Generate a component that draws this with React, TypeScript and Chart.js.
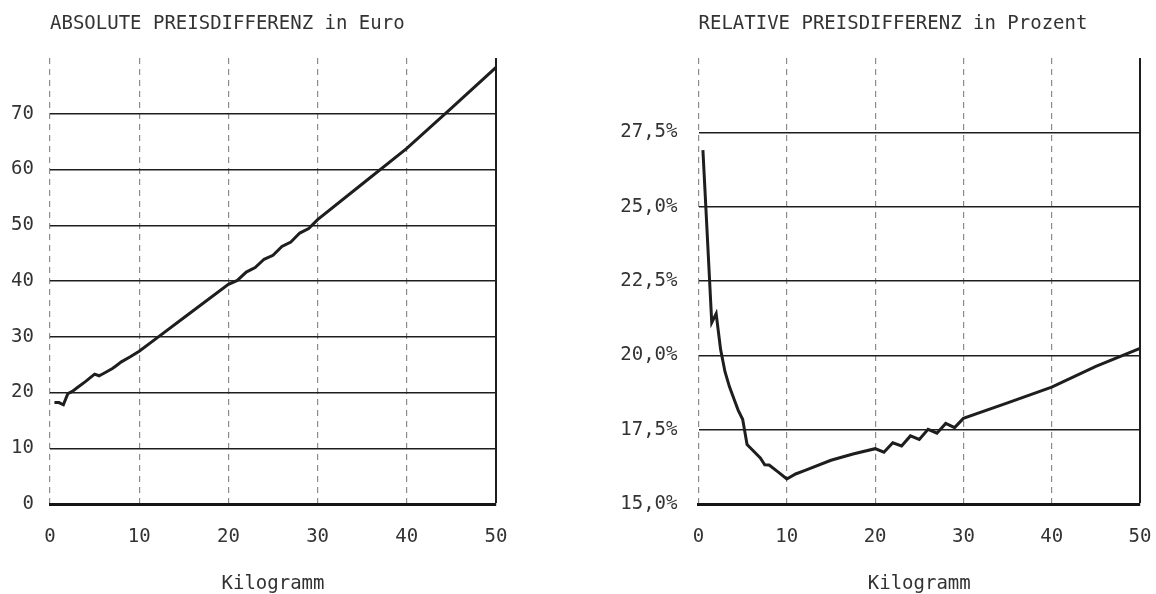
import React, { useEffect, useRef } from "react";
import { Chart, registerables } from "chart.js";

Chart.register(...registerables);

// ---- data ----
const absKg = [0.5, 1, 1.5, 2, 2.5, 3, 4, 5, 5.5, 6, 7, 7.5, 8, 9, 10, 12, 15, 20, 21, 22, 23, 24, 25, 26, 27, 28, 29, 30, 35, 40, 45, 50];
const absEuro = [18.2, 18.2, 17.8, 19.8, 20.2, 20.8, 22.0, 23.3, 23.0, 23.4, 24.3, 24.9, 25.5, 26.4, 27.4, 29.8, 33.4, 39.4, 40.1, 41.6, 42.4, 43.9, 44.6, 46.2, 47.0, 48.6, 49.4, 51.0, 57.4, 63.8, 71.0, 78.3];

const relKg = [0.5, 1.5, 2, 2.5, 3, 3.5, 4, 4.5, 5, 5.5, 6, 7, 7.5, 8, 9, 10, 11, 12, 15, 17.5, 20, 21, 22, 23, 24, 25, 26, 27, 28, 29, 30, 35, 40, 45, 50];
const relPct = [26.9, 21.1, 21.4, 20.2, 19.45, 18.95, 18.55, 18.15, 17.85, 17.0, 16.85, 16.55, 16.32, 16.31, 16.08, 15.84, 16.01, 16.12, 16.47, 16.68, 16.86, 16.74, 17.06, 16.95, 17.29, 17.17, 17.51, 17.38, 17.71, 17.57, 17.88, 18.4, 18.93, 19.63, 20.23];

const xTicks = [0, 10, 20, 30, 40, 50];
const absYTicks = [0, 10, 20, 30, 40, 50, 60, 70];
const relYTicks = [15, 17.5, 20, 22.5, 25, 27.5];

const absTitle = "ABSOLUTE PREISDIFFERENZ in Euro";
const relTitle = "RELATIVE PREISDIFFERENZ in Prozent";
const xTitle = "Kilogramm";

// ---- styling ----
const FAMILY = "'DejaVu Sans Mono', monospace";
const TEXT = "#333";

type Cfg = {
  xs: number[];
  ys: number[];
  yMin: number;
  yMax: number;
  yTicks: number[];
  fmt: (v: number) => string;
  yAxisWidth: number;
  yTickPad: number;
  padRight: number;
  title: string;
};

function makeConfig(c: Cfg): any {
  const font = { family: FAMILY, size: 19, weight: "normal", lineHeight: 1.2 };
  return {
    type: "line",
    data: {
      datasets: [
        {
          data: c.xs.map((x, i) => ({ x, y: c.ys[i] })),
          borderColor: "#1e1e1e",
          borderWidth: 3,
          pointRadius: 0,
          tension: 0,
          fill: false,
        },
      ],
    },
    options: {
      responsive: false,
      animation: false,
      layout: { padding: { left: 0, right: c.padRight, top: 0, bottom: 0 } },
      plugins: {
        legend: { display: false },
        tooltip: { enabled: false },
        title: {
          display: true,
          text: c.title,
          align: "start",
          fullSize: false,
          color: TEXT,
          font,
          padding: { top: 12.3, bottom: 22.9 },
        },
      },
      scales: {
        x: {
          type: "linear",
          min: 0,
          max: 50,
          afterBuildTicks: (s: any) => {
            s.ticks = xTicks.map((v) => ({ value: v }));
          },
          afterFit: (s: any) => {
            s.height = 90;
            s.paddingLeft = 0;
            s.paddingRight = 0;
          },
          grid: {
            drawTicks: false,
            color: (ctx: any) => (ctx.tick && ctx.tick.value === 50 ? "#1e1e1e" : "#8c8c8c"),
            lineWidth: (ctx: any) => (ctx.tick && ctx.tick.value === 50 ? 2 : 1.2),
          },
          border: {
            display: true,
            color: "#151515",
            width: 3,
            dash: (ctx: any) => (ctx.tick && ctx.tick.value === 50 ? [] : [6, 5]),
          },
          ticks: {
            padding: 21.6,
            color: TEXT,
            font,
            maxRotation: 0,
            autoSkip: false,
            callback: (v: any) => String(v),
          },
          title: {
            display: true,
            text: xTitle,
            color: TEXT,
            font: { family: FAMILY, size: 19, weight: "normal", lineHeight: 1 },
            padding: { top: 0, bottom: 0.5 },
          },
        },
        y: {
          type: "linear",
          min: c.yMin,
          max: c.yMax,
          afterBuildTicks: (s: any) => {
            s.ticks = c.yTicks.map((v) => ({ value: v }));
          },
          afterFit: (s: any) => {
            s.width = c.yAxisWidth;
            s.paddingTop = 0;
            s.paddingBottom = 0;
          },
          grid: { drawTicks: false, color: "#1e1e1e", lineWidth: 1.5 },
          border: { display: false },
          ticks: {
            padding: c.yTickPad,
            color: TEXT,
            font,
            callback: (v: any) => c.fmt(Number(v)),
          },
        },
      },
    },
  };
}

function ChartBox({ cfg, left, width, height }: { cfg: Cfg; left: number; width: number; height: number }) {
  const ref = useRef<HTMLCanvasElement | null>(null);
  useEffect(() => {
    if (!ref.current) return;
    const chart = new Chart(ref.current, makeConfig(cfg));
    return () => chart.destroy();
  }, []);
  return (
    <canvas
      ref={ref}
      width={width}
      height={height}
      style={{ position: "absolute", left, top: 0, width, height }}
    />
  );
}

const absCfg: Cfg = {
  xs: absKg,
  ys: absEuro,
  yMin: 0,
  yMax: 80,
  yTicks: absYTicks,
  fmt: (v) => String(v),
  yAxisWidth: 50,
  yTickPad: 16,
  padRight: 64,
  title: absTitle,
};

const relCfg: Cfg = {
  xs: relKg,
  ys: relPct,
  yMin: 15,
  yMax: 30,
  yTicks: relYTicks,
  fmt: (v) => v.toFixed(1).replace(".", ",") + "%",
  yAxisWidth: 118.5,
  yTickPad: 21,
  padRight: 16,
  title: relTitle,
};

export default function App() {
  return (
    <div style={{ position: "absolute", left: 0, top: 0, width: 1156, height: 594, background: "#fff" }}>
      <ChartBox cfg={absCfg} left={0} width={560} height={594} />
      <ChartBox cfg={relCfg} left={580} width={576} height={594} />
    </div>
  );
}
